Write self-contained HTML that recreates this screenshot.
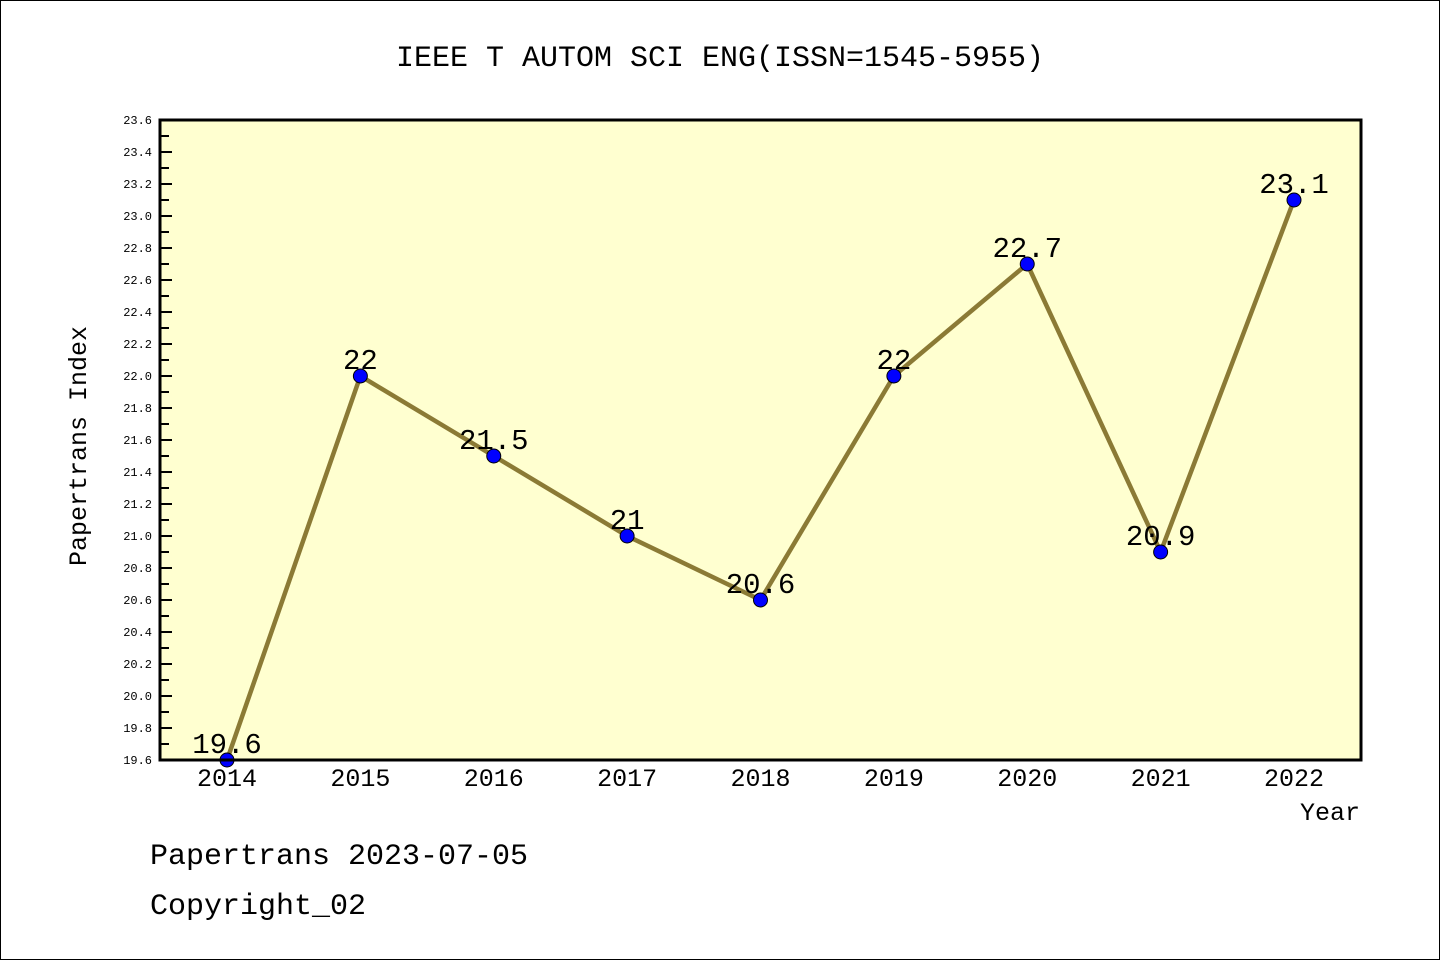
<!DOCTYPE html>
<html><head><meta charset="utf-8"><style>
html,body{margin:0;padding:0;background:#fff}
svg{display:block}
text{font-family:"WenQuanYi Zen Hei","Liberation Mono",monospace}
</style></head><body>
<svg id="chart" width="1440" height="960" viewBox="0 0 1440 960">
<rect x="0.5" y="0.5" width="1439" height="959" fill="#fff" stroke="#000" stroke-width="1"/>
<text x="720" y="66" font-size="30" text-anchor="middle">IEEE T AUTOM SCI ENG(ISSN=1545-5955)</text>
<rect x="160" y="120" width="1201" height="640" fill="#ffffd0"/>
<g id="yticks"></g>
<g id="xticks"></g>
<polyline id="line" fill="none" stroke="#8b7a35" stroke-width="4.5"/>
<g id="points"></g>
<rect x="160" y="120" width="1201" height="640" fill="none" stroke="#000" stroke-width="3"/>
<text x="86" y="446" font-size="25" text-anchor="middle" transform="rotate(-90 86 446)">Papertrans Index</text>
<text x="1360" y="820" font-size="25" text-anchor="end">Year</text>
<text x="150" y="864" font-size="30">Papertrans 2023-07-05</text>
<text x="150" y="914" font-size="30">Copyright_02</text>
</svg>
<script>
const years = [2014,2015,2016,2017,2018,2019,2020,2021,2022];
const values = [19.6,22,21.5,21,20.6,22,22.7,20.9,23.1];
const valueLabels = ["19.6","22","21.5","21","20.6","22","22.7","20.9","23.1"];
const yMin = 19.6, yMax = 23.6;
const NS = "http://www.w3.org/2000/svg";
function xScale(i){return 227 + i*(1294-227)/(years.length-1);}
function yScale(v){return 760 - (v-yMin)/(yMax-yMin)*640;}
function mk(tag, attrs, parent){const e=document.createElementNS(NS,tag);for(const k in attrs)e.setAttribute(k,attrs[k]);parent.appendChild(e);return e;}
const yt=document.getElementById('yticks');
for(let k=0;k<=40;k++){
  const v=yMin+k*0.1, y=yScale(v), major=k%2===0;
  const t=mk('line',{x1:160,x2:major?172:169,y1:y,y2:y,stroke:'#000','stroke-width':2},yt);
  
  
  if(major){
    const l=mk('text',{x:152,y:y+4,'font-size':12,'text-anchor':'end'},yt);
    l.textContent=v.toFixed(1);
    
    
  }
}
const xt=document.getElementById('xticks');
years.forEach((yr,i)=>{
  const l=mk('text',{x:xScale(i),y:786,'font-size':25,'text-anchor':'middle'},xt);
  l.textContent=yr;
  
  
});
document.getElementById('line').setAttribute('points',values.map((v,i)=>xScale(i)+','+yScale(v)).join(' '));
const pg=document.getElementById('points');
values.forEach((v,i)=>{
  const c=mk('circle',{cx:xScale(i),cy:yScale(v),r:7,fill:'#0000ff',stroke:'#000','stroke-width':1},pg);
  
  
  const t=mk('text',{x:xScale(i),y:yScale(v)-7,'font-size':29,'text-anchor':'middle'},pg);
  t.textContent=valueLabels[i];
  
  
});
</script>
</body></html>
